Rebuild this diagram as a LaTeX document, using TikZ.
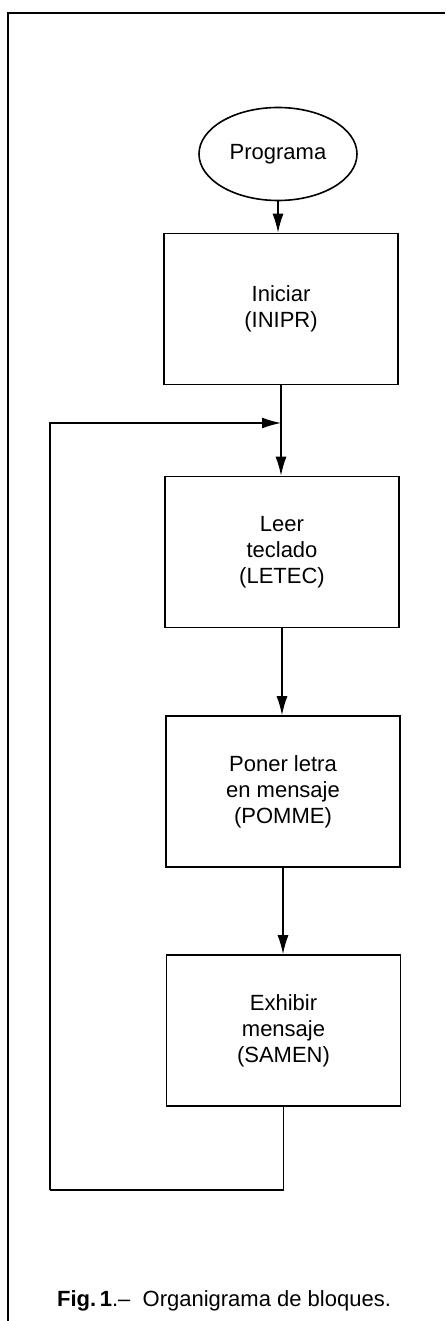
\documentclass[tikz,border=0pt]{standalone}
\usepackage{fontspec}
\setmainfont{Liberation Sans}
\usetikzlibrary{shapes.geometric,arrows.meta}

\tikzset{
  bloque/.style={draw, line width=1.6pt, minimum width=234pt, minimum height=151pt,
                 align=center, inner sep=0pt},
  flujo/.style={line width=1.4pt, -{Latex[length=19pt,width=11pt]}},
  linea/.style={line width=1.4pt}
}

\begin{document}
\begin{tikzpicture}[x=1pt, y=-1pt, font=\fontsize{22}{26}\selectfont]

  \useasboundingbox (0,0) rectangle (445,1321);
  % marco de la figura
  \draw[line width=1.6pt] (8,1321) -- (8,13) -- (445,13);

  % bloques
  \node[draw, ellipse, line width=1.6pt, minimum width=158pt, minimum height=93pt, inner sep=0pt]
    (prog) at (278,154) {Programa};
  \node[bloque] (inipr) at (281,309)    {Iniciar\\(INIPR)};
  \node[bloque] (letec) at (282,552)    {Leer\\teclado\\(LETEC)};
  \node[bloque] (pomme) at (283,791.5)  {Poner letra\\en mensaje\\(POMME)};
  \node[bloque] (samen) at (283.5,1030.5) {Exhibir\\mensaje\\(SAMEN)};

  % conectores
  \draw[flujo] (prog.south) -- (prog.south |- inipr.north);
  \draw[flujo] (inipr.south) -- (inipr.south |- letec.north);
  \draw[flujo] (letec.south) -- (letec.south |- pomme.north);
  \draw[flujo] (pomme.south) -- (pomme.south |- samen.north);

  % vuelta al principio
  \coordinate (abajo) at (50,1190);
  \coordinate (union) at (inipr.south |- 0,423);
  \draw[linea] (samen.south) |- (abajo);
  \draw[flujo] (abajo) |- (union);

  % pie
  \node[anchor=base] (pie) at (224,1306) {\textbf{Fig.\,1}.–\ \ Organigrama de bloques.};

\end{tikzpicture}
\end{document}
